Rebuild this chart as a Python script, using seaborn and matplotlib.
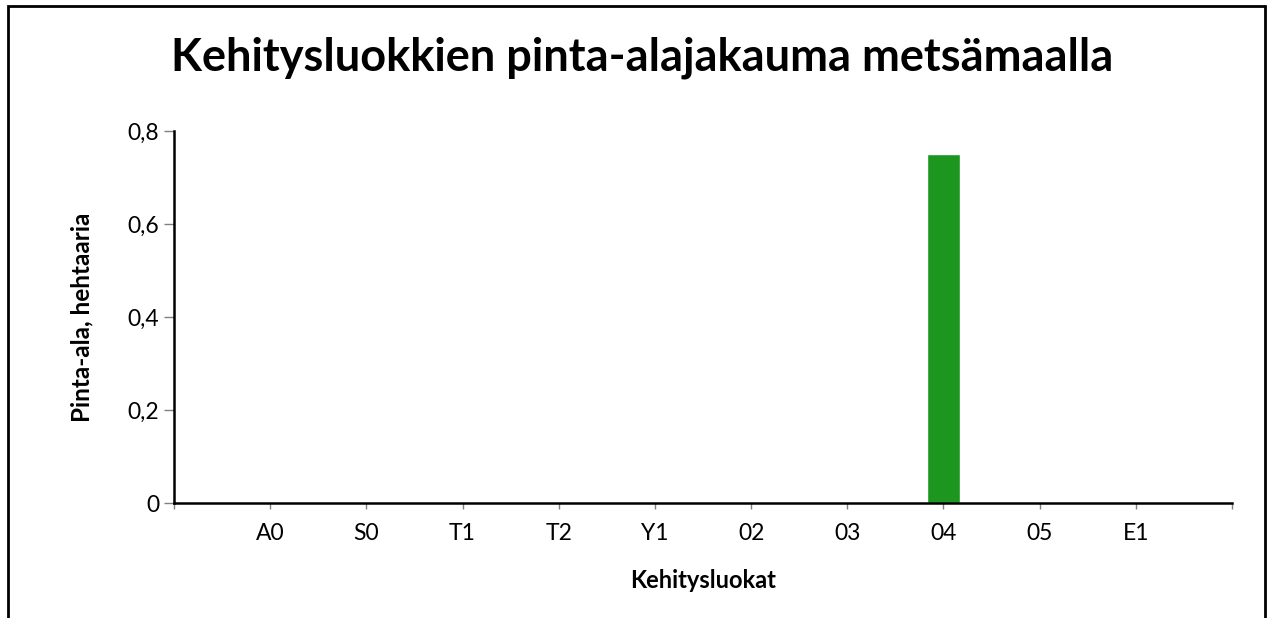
import matplotlib
matplotlib.use('Agg')
import matplotlib.pyplot as plt
import matplotlib.patches as mpatches
from matplotlib.ticker import FuncFormatter
import seaborn as sns

# data
categories = ['A0', 'S0', 'T1', 'T2', 'Y1', '02', '03', '04', '05', 'E1']
values = [0, 0, 0, 0, 0, 0, 0, 0.75, 0, 0]
bar_color = '#1c961e'

sns.set_style('white')
plt.rcParams['font.family'] = ['Lato', 'DejaVu Sans']
plt.rcParams['text.color'] = 'black'
plt.rcParams['axes.labelcolor'] = 'black'

fig = plt.figure(figsize=(12.72, 6.18), dpi=100)
ax = fig.add_axes([174 / 1272, 1 - 503 / 618, (1232 - 174) / 1272, (503 - 131) / 618])

sns.barplot(x=categories, y=values, color=bar_color, width=0.34, saturation=1, ax=ax)

ax.set_xlim(-1, 10)
ax.set_ylim(0, 0.8)
ax.set_xticks(range(-1, 11))
ax.set_xticklabels([''] + categories + [''])
ax.set_yticks([0, 0.2, 0.4, 0.6, 0.8])
ax.yaxis.set_major_formatter(FuncFormatter(lambda v, p: '0' if v == 0 else f'{v:.1f}'.replace('.', ',')))

for s in ['top', 'right']:
    ax.spines[s].set_visible(False)
for s in ['left', 'bottom']:
    ax.spines[s].set_color('black')
    ax.spines[s].set_linewidth(1.8)

ax.tick_params(axis='both', which='major', width=1, color='#808080',
               labelsize=16.5, labelcolor='black', direction='out', bottom=True, left=True)
ax.tick_params(axis='x', length=4.5, pad=10)
ax.tick_params(axis='y', length=7.5, pad=3)

ax.set_xlabel('Kehitysluokat', fontsize=17, fontweight='bold')
ax.set_ylabel('Pinta-ala, hehtaaria', fontsize=17.5, fontweight='bold')
ax.xaxis.set_label_coords(0.5, -(569 - 503) / 372)
ax.yaxis.set_label_coords(-(174 - 93) / 1058, 0.5)

fig.text(0.505, 1 - 58 / 618, 'Kehitysluokkien pinta-alajakauma metsämaalla',
         ha='center', va='center', fontsize=32.5, fontweight='bold', color='black')

# outer frame (bottom edge lies outside the picture)
frame = mpatches.Rectangle((8 / 1272, -0.05), (1265 - 8) / 1272, 1.05 - 6 / 618,
                           transform=fig.transFigure, fill=False, edgecolor='black',
                           linewidth=2, clip_on=False)
fig.patches.append(frame)

fig.savefig('out.png', dpi=100)
